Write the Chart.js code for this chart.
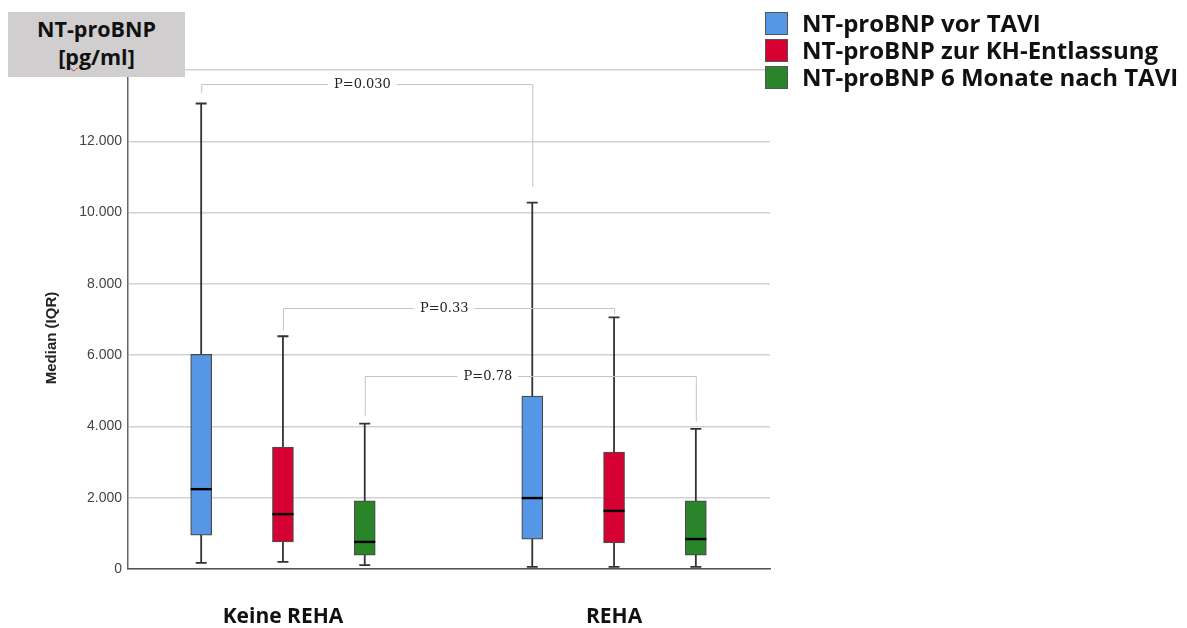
<!DOCTYPE html>
<html>
<head>
<meta charset="utf-8">
<script src="https://cdn.jsdelivr.net/npm/chart.js@4/dist/chart.umd.min.js"></script>
<style>
  html, body { margin: 0; padding: 0; background: #fff; }
  #wrap { position: relative; width: 1187px; height: 628px; overflow: hidden; }
  canvas { position: absolute; left: 0; top: 0; }
  .unitbox { position: absolute; left: 8px; top: 12px; width: 177px; height: 65px; background: #d0cece;
    font-family: "Open Sans", sans-serif; font-weight: 700; font-size: 21.5px; line-height: 28px;
    text-align: center; color: #111; padding-top: 3px; box-sizing: border-box; }
  .unitbox .pg { text-decoration: underline wavy #d33; text-decoration-thickness: 1px; text-underline-offset: 2px; }
  .leg { position: absolute; left: 765px; font-family: "Open Sans", sans-serif; font-weight: 700; font-size: 24px; color: #111; }
  .leg .sw { position: absolute; left: 0; width: 21px; height: 21px; border: 1px solid #555; }
  .leg .tx { position: absolute; left: 37px; white-space: nowrap; line-height: 24px; }
</style>
</head>
<body>
<div id="wrap">
  <canvas id="c" width="1187" height="628"></canvas>
  <div class="unitbox">NT-proBNP<br>[<span class="pg">pg</span>/ml]</div>
  <div id="legend"></div>
</div>
<script>
// ---- data ----
const categories = ['Keine REHA', 'REHA'];
const seriesLabels = ['NT-proBNP vor TAVI', 'NT-proBNP zur KH-Entlassung', 'NT-proBNP 6 Monate nach TAVI'];
const seriesColors = ['#5597e6', '#d70032', '#2a852a'];

const blueMin = [170, 60];
const blueQ1 = [950, 840];
const blueMedian = [2240, 1990];
const blueQ3 = [6020, 4850];
const blueMax = [13060, 10280];

const redMin = [200, 60];
const redQ1 = [760, 730];
const redMedian = [1540, 1630];
const redQ3 = [3420, 3280];
const redMax = [6530, 7060];

const greenMin = [110, 60];
const greenQ1 = [390, 390];
const greenMedian = [760, 840];
const greenQ3 = [1910, 1910];
const greenMax = [4080, 3930];

const yTicks = [0, 2000, 4000, 6000, 8000, 10000, 12000, 14000];

// significance brackets (series compared between the two groups)
const pLabels = ['P=0.030', 'P=0.33', 'P=0.78'];
const pLevel = [13600, 7320, 5420];
const pLeftEnd = [13350, 6700, 4300];
const pRightEnd = [10720, 7150, 4130];
const pLabelPos = [0.487, 0.487, 0.372];

// ---- build ----
const stats = [
  {min: blueMin, q1: blueQ1, med: blueMedian, q3: blueQ3, max: blueMax},
  {min: redMin, q1: redQ1, med: redMedian, q3: redQ3, max: redMax},
  {min: greenMin, q1: greenQ1, med: greenMedian, q3: greenQ3, max: greenMax}
];
const SERIES_OFFSET = 0.247;
const seriesX = (s, g) => g + (s - 1) * SERIES_OFFSET;

const datasets = stats.map((st, s) => ({
  label: seriesLabels[s],
  data: categories.map((c, g) => ({x: seriesX(s, g), y: [st.q1[g], st.q3[g]]})),
  backgroundColor: seriesColors[s],
  borderColor: '#4a4a4a',
  borderWidth: 1.2,
  borderSkipped: false,
  barThickness: 21,
  grouped: false
}));

const fmt = v => v === 0 ? '0' : v.toLocaleString('de-DE');

const boxPlugin = {
  id: 'boxparts',
  beforeDatasetsDraw(chart) {
    const ctx = chart.ctx, y = chart.scales.y;
    ctx.save();
    ctx.strokeStyle = '#333';
    ctx.lineWidth = 1.8;
    stats.forEach((st, s) => {
      const meta = chart.getDatasetMeta(s);
      meta.data.forEach((bar, g) => {
        const x = bar.x;
        const yMin = y.getPixelForValue(st.min[g]);
        const yMax = y.getPixelForValue(st.max[g]);
        ctx.beginPath();
        ctx.moveTo(x, yMin); ctx.lineTo(x, yMax);
        ctx.moveTo(x - 5.5, yMin); ctx.lineTo(x + 5.5, yMin);
        ctx.moveTo(x - 5.5, yMax); ctx.lineTo(x + 5.5, yMax);
        ctx.stroke();
      });
    });
    ctx.restore();
  },
  afterDatasetsDraw(chart) {
    const ctx = chart.ctx, y = chart.scales.y;
    ctx.save();
    ctx.strokeStyle = '#000';
    ctx.lineWidth = 2.4;
    stats.forEach((st, s) => {
      const meta = chart.getDatasetMeta(s);
      meta.data.forEach((bar, g) => {
        const ym = y.getPixelForValue(st.med[g]);
        ctx.beginPath();
        ctx.moveTo(bar.x - bar.width / 2, ym);
        ctx.lineTo(bar.x + bar.width / 2, ym);
        ctx.stroke();
      });
    });
    // significance brackets
    const xs = chart.scales.x;
    pLabels.forEach((lab, i) => {
      const xl = xs.getPixelForValue(seriesX(i, 0));
      const xr = xs.getPixelForValue(seriesX(i, 1));
      const yl = y.getPixelForValue(pLevel[i]);
      ctx.strokeStyle = '#c4c4c4';
      ctx.lineWidth = 1;
      ctx.beginPath();
      ctx.moveTo(xl + 0.5, y.getPixelForValue(pLeftEnd[i]));
      ctx.lineTo(xl + 0.5, Math.round(yl) + 0.5);
      ctx.lineTo(xr + 0.5, Math.round(yl) + 0.5);
      ctx.lineTo(xr + 0.5, y.getPixelForValue(pRightEnd[i]));
      ctx.stroke();
      ctx.font = '13px "DejaVu Serif", serif';
      const w = ctx.measureText(lab).width;
      const cx = xl + (xr - xl) * pLabelPos[i];
      ctx.fillStyle = '#fff';
      ctx.fillRect(cx - w / 2 - 6, yl - 8, w + 12, 16);
      ctx.fillStyle = '#222';
      ctx.textAlign = 'center';
      ctx.textBaseline = 'middle';
      ctx.fillText(lab, cx, yl + 0.5);
    });
    ctx.restore();
  },
  afterDraw(chart) {
    const ctx = chart.ctx;
    ctx.save();
    ctx.translate(52, 338);
    ctx.rotate(-Math.PI / 2);
    ctx.font = 'bold 15px "Liberation Sans", Arial, sans-serif';
    ctx.fillStyle = '#222';
    ctx.textAlign = 'center';
    ctx.textBaseline = 'middle';
    ctx.fillText('Median (IQR)', 0, 0);
    ctx.restore();
  }
};

new Chart(document.getElementById('c'), {
  type: 'bar',
  data: { datasets },
  options: {
    responsive: false,
    animation: false,
    events: [],
    layout: { padding: { left: 0, top: 70, right: 417, bottom: 0 } },
    plugins: { legend: { display: false }, tooltip: { enabled: false } },
    scales: {
      x: {
        type: 'linear',
        offset: false,
        bounds: 'data',
        min: -0.468,
        max: 1.471,
        afterBuildTicks: sc => { sc.ticks = categories.map((c, i) => ({value: i})); },
        afterFit: sc => { sc.height = 59; },
        grid: { display: false, drawTicks: false, offset: false },
        border: { display: true, color: '#555', width: 1.5 },
        ticks: {
          autoSkip: false, maxRotation: 0, padding: 35,
          color: '#111',
          font: { family: '"Open Sans", sans-serif', weight: 'bold', size: 21 },
          callback: v => categories[v] ?? ''
        }
      },
      y: {
        min: 0,
        max: 14000,
        afterBuildTicks: sc => { sc.ticks = yTicks.map(v => ({value: v})); },
        afterFit: sc => { sc.width = 128; },
        grid: { color: '#d2d2d2', lineWidth: 1.5, drawTicks: false },
        border: { display: true, color: '#666', width: 1.5 },
        ticks: {
          padding: 6,
          color: '#444',
          font: { family: '"Liberation Sans", Arial, sans-serif', size: 14 },
          callback: v => v === 14000 ? '' : fmt(v)
        }
      }
    }
  },
  plugins: [boxPlugin]
});

// legend (HTML)
const legTops = [12, 38.5, 65.5];
const legend = document.getElementById('legend');
seriesLabels.forEach((lab, i) => {
  const d = document.createElement('div');
  d.className = 'leg';
  d.style.top = legTops[i] + 'px';
  d.innerHTML = '<div class="sw" style="background:' + seriesColors[i] + '"></div><div class="tx" style="top:-1px">' + lab + '</div>';
  legend.appendChild(d);
});
</script>
</body>
</html>
